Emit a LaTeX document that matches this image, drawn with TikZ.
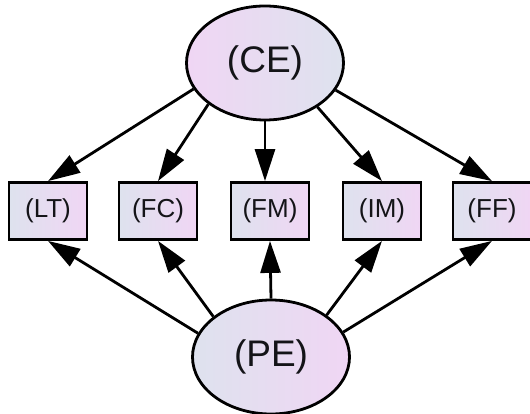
\documentclass[tikz,border=0pt]{standalone}
\usepackage{fontspec}
\setmainfont{Liberation Sans}
\usetikzlibrary{arrows.meta, shapes.geometric}
\tikzstyle{every path}=[line width=2.8pt]
\definecolor{inkdark}{RGB}{20,20,24}
\definecolor{fillblue}{RGB}{222,226,238}
\definecolor{fillpink}{RGB}{240,214,244}
\tikzstyle{latent} = [ellipse, draw=black, inner sep=0pt, text=inkdark,
    minimum width=157pt, minimum height=114pt,
    font=\fontsize{37}{40}\selectfont]
\tikzstyle{observed} = [rectangle, draw=black, inner sep=0pt, text=inkdark,
    minimum width=78pt, minimum height=57pt,
    left color=fillblue, right color=fillpink,
    font=\fontsize{26}{28}\selectfont]
\tikzstyle{path arrow} = [-{Triangle[length=32pt, width=20pt]}]

\begin{document}
\begin{tikzpicture}[x=1pt, y=-1pt]
            \useasboundingbox (0, 0) rectangle (530, 414);

            \node[latent, left color=fillpink, right color=fillblue] (CE) at (265, 63) {(CE)};
            \node[latent, left color=fillblue, right color=fillpink] (PE) at (271, 357) {(PE)};

            \node[observed] (LT) at (48, 211) {(LT)};
            \node[observed] (FC) at (158, 211) {(FC)};
            \node[observed] (FM) at (270, 211) {(FM)};
            \node[observed] (IM) at (382, 211) {(IM)};
            \node[observed] (FF) at (492, 211) {(FF)};

            \draw[path arrow] (CE.200) -- (LT.north);
            \draw[path arrow] (CE.216) -- (FC.north);
            \draw[path arrow] (CE.south) -- (CE.south |- FM.north);
            \draw[path arrow] (CE.320) -- (IM.north);
            \draw[path arrow] (CE.339) -- (FF.north);

            \draw[path arrow] (PE.162) -- (LT.south);
            \draw[path arrow] (PE.145) -- (FC.south);
            \draw[path arrow] (PE.north) -- (FM.south);
            \draw[path arrow] (PE.37) -- (IM.south);
            \draw[path arrow] (PE.19) -- (FF.south);
        \end{tikzpicture}
\end{document}
